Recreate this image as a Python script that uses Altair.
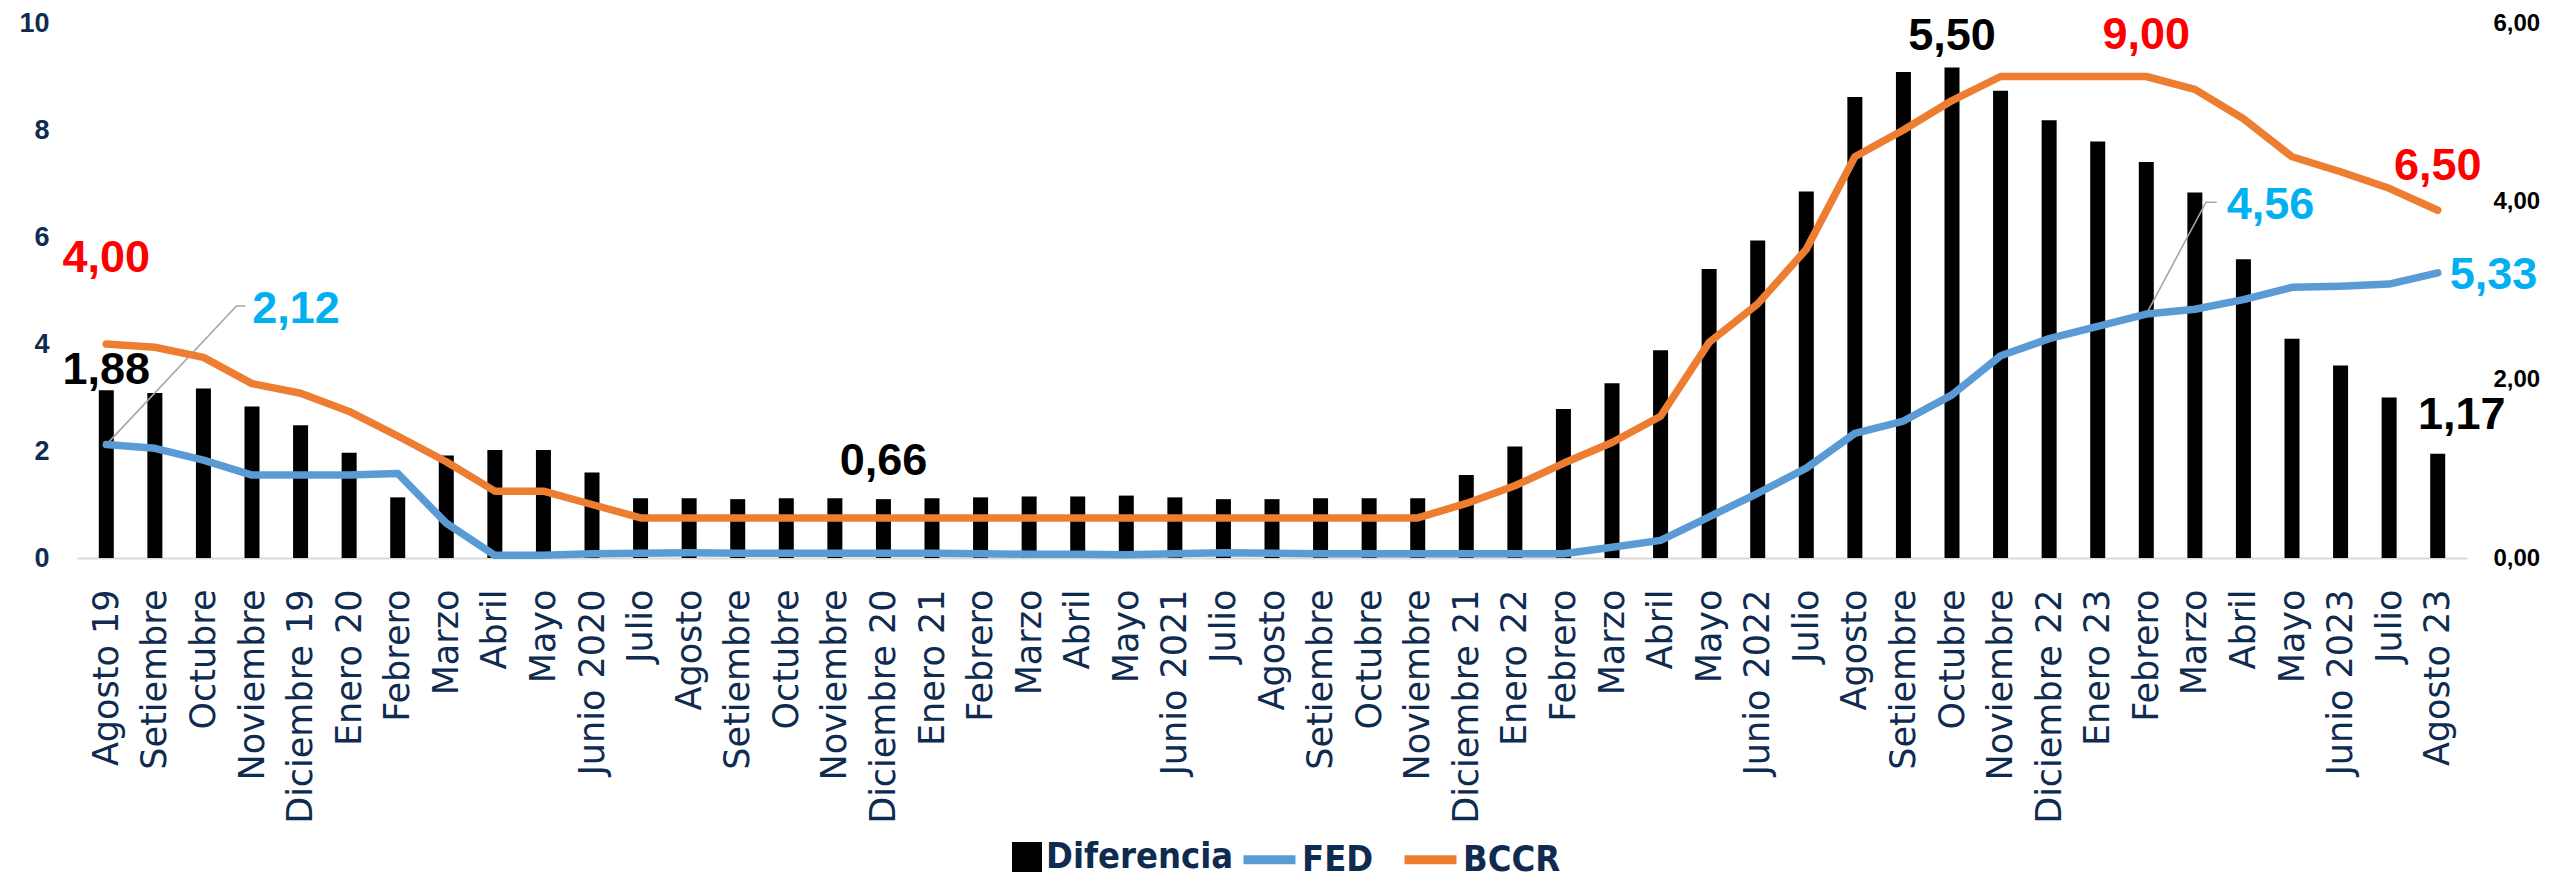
import json
import altair as alt
import pandas as pd

# ---------------- data ----------------
meses = ["Agosto 19", "Setiembre", "Octubre", "Noviembre", "Diciembre 19", "Enero 20",
         "Febrero", "Marzo", "Abril", "Mayo", "Junio 2020", "Julio", "Agosto\u00a0",
         "Setiembre", "Octubre", "Noviembre", "Diciembre 20", "Enero 21", "Febrero",
         "Marzo", "Abril", "Mayo", "Junio 2021", "Julio", "Agosto\u00a0", "Setiembre",
         "Octubre", "Noviembre", "Diciembre 21", "Enero 22", "Febrero", "Marzo", "Abril",
         "Mayo", "Junio 2022", "Julio", "Agosto\u00a0", "Setiembre", "Octubre", "Noviembre",
         "Diciembre 22", "Enero 23", "Febrero", "Marzo", "Abril", "Mayo", "Junio 2023",
         "Julio", "Agosto 23"]

fed = [2.12, 2.05, 1.83, 1.55, 1.55, 1.55, 1.58, 0.65, 0.05, 0.05, 0.08, 0.09, 0.10,
       0.09, 0.09, 0.09, 0.09, 0.09, 0.08, 0.07, 0.07, 0.06, 0.08, 0.10, 0.09, 0.08,
       0.08, 0.08, 0.08, 0.08, 0.08, 0.20, 0.33, 0.77, 1.21, 1.68, 2.33, 2.56, 3.05,
       3.78, 4.10, 4.33, 4.56, 4.65, 4.83, 5.06, 5.08, 5.12, 5.33]

bccr = [4.00, 3.94, 3.75, 3.26, 3.08, 2.74, 2.28, 1.80, 1.25, 1.25, 1.00, 0.75, 0.75,
        0.75, 0.75, 0.75, 0.75, 0.75, 0.75, 0.75, 0.75, 0.75, 0.75, 0.75, 0.75, 0.75,
        0.75, 0.75, 1.02, 1.35, 1.77, 2.16, 2.65, 4.03, 4.75, 5.77, 7.50, 8.00, 8.55,
        9.00, 9.00, 9.00, 9.00, 8.76, 8.21, 7.50, 7.22, 6.91, 6.50]

diferencia = [1.88, 1.85, 1.90, 1.70, 1.49, 1.18, 0.68, 1.15, 1.21, 1.21, 0.96, 0.67,
              0.67, 0.66, 0.67, 0.67, 0.66, 0.67, 0.68, 0.69, 0.69, 0.70, 0.68, 0.66,
              0.66, 0.67, 0.67, 0.67, 0.93, 1.25, 1.67, 1.96, 2.33, 3.24, 3.56, 4.11,
              5.17, 5.45, 5.50, 5.24, 4.91, 4.67, 4.44, 4.10, 3.35, 2.46, 2.16, 1.80, 1.17]

eje_izq = [0, 2, 4, 6, 8, 10]
eje_der = [0, 2, 4, 6]

# annotated points: (index, dx, dy)
notas_bccr = [(0, 0, -86), (42, 0, -42), (48, 0, -44)]
notas_dif = [(0, 0, -20), (16, 0, -38), (38, 0, -32), (48, 24, -39)]
# FED labels with leader lines: (index, knee x, knee y, end x, text dx)
notas_fed_guia = [(0, 2.68, 4.71, 2.86, 7), (42, 43.23, 6.65, 43.45, 10)]
nota_fed_final = 48

NAVY = "#0f2b50"
BOLD_FONT = "Liberation Sans, Arial, sans-serif"
NARROW_FONT = "DejaVu Sans Condensed, Liberation Sans, sans-serif"
AXIS_FONT = "DejaVu Sans, sans-serif"


def fmt(v):
    return f"{v:.2f}".replace(".", ",")


df = pd.DataFrame({"idx": list(range(len(meses))), "mes": meses, "FED": fed,
                   "BCCR": bccr, "Diferencia": diferencia})

x_axis = alt.Axis(values=list(range(len(meses))),
                  labelExpr=json.dumps(meses, ensure_ascii=False) + "[datum.value]",
                  labelAngle=270, labelFont=AXIS_FONT, labelFontSize=35,
                  labelColor=NAVY, labelPadding=31, ticks=False, grid=False,
                  domainColor="#d9d9d9", domainWidth=2, labelOverlap=False,
                  labelFlush=False, labelBound=False, labelLimit=500, title=None)
x_scale = alt.Scale(domain=[-0.5, len(meses) - 0.5], nice=False, zero=False)
X = alt.X("idx:Q", scale=x_scale, axis=x_axis)

ax_der = alt.Axis(orient="right", values=eje_der,
                  labelExpr="replace(format(datum.value, '.2f'), '.', ',')",
                  labelFont=BOLD_FONT, labelFontSize=24, labelFontWeight="bold",
                  labelColor="black", labelPadding=26, ticks=False, domain=False,
                  grid=False, title=None)
ax_izq = alt.Axis(orient="left", values=eje_izq, format="d",
                  labelFont=BOLD_FONT, labelFontSize=27, labelFontWeight="bold",
                  labelColor=NAVY, labelPadding=28, ticks=False, domain=False,
                  grid=False, title=None)
sc_der = alt.Scale(domain=[0, 6], nice=False, zero=True)
sc_izq = alt.Scale(domain=[0, 10], nice=False, zero=True)

# ---------------- bars (right axis) ----------------
barras = alt.Chart(df).transform_calculate(serie="'Diferencia'").mark_bar(size=15).encode(
    x=X,
    y=alt.Y("Diferencia:Q", scale=sc_der, axis=ax_der),
    fill=alt.Fill("serie:N", scale=alt.Scale(domain=["Diferencia"], range=["#000000"]),
                  legend=alt.Legend(orient="none", legendX=932, legendY=816,
                                    direction="horizontal", symbolType="square",
                                    symbolSize=900, symbolStrokeWidth=0,
                                    labelFont=NARROW_FONT, labelFontSize=36,
                                    labelFontWeight="bold", labelColor=NAVY,
                                    labelLimit=600, labelOffset=1, title=None)),
)

capas_dif = [barras]
for i, dx, dy in notas_dif:
    capas_dif.append(
        alt.Chart(pd.DataFrame([{"idx": i, "val": diferencia[i],
                                 "txt": fmt(diferencia[i])}])).mark_text(
            font=BOLD_FONT, fontSize=45, fontWeight="bold", color="black",
            dx=dx, dy=dy, baseline="middle", align="center").encode(
            x=X, y=alt.Y("val:Q", scale=sc_der, axis=ax_der), text="txt:N"))
grupo_barras = alt.layer(*capas_dif)

# ---------------- lines (left axis) ----------------
lineas = alt.Chart(df).transform_fold(["FED", "BCCR"], as_=["serie", "valor"]).mark_line(
    strokeWidth=7.5, strokeCap="round", strokeJoin="round").encode(
    x=X,
    y=alt.Y("valor:Q", scale=sc_izq, axis=ax_izq),
    stroke=alt.Stroke("serie:N", scale=alt.Scale(domain=["FED", "BCCR"],
                                                 range=["#5b9bd5", "#ed7d31"]),
                      legend=alt.Legend(orient="none", legendX=1162, legendY=806,
                                        direction="horizontal", symbolType="stroke",
                                        symbolSize=2700, symbolStrokeWidth=9,
                                        columnPadding=12,
                                        labelFont=NARROW_FONT, labelFontSize=36,
                                        labelFontWeight="bold", labelColor=NAVY,
                                        labelLimit=600, labelOffset=2, title=None)),
    order="idx:Q",
)

guia_rows = []
for g, (i, kx, ky, ex, _) in enumerate(notas_fed_guia):
    guia_rows += [{"g": g, "o": 0, "x": i, "y": fed[i]},
                  {"g": g, "o": 1, "x": kx, "y": ky},
                  {"g": g, "o": 2, "x": ex, "y": ky}]
guias = alt.Chart(pd.DataFrame(guia_rows)).mark_line(color="#a6a6a6", strokeWidth=1.6).encode(
    x=alt.X("x:Q", scale=x_scale, axis=x_axis),
    y=alt.Y("y:Q", scale=sc_izq, axis=ax_izq),
    detail="g:N", order="o:Q")

capas_lin = [guias, lineas]
for i, dx, dy in notas_bccr:
    capas_lin.append(
        alt.Chart(pd.DataFrame([{"idx": i, "val": bccr[i], "txt": fmt(bccr[i])}])).mark_text(
            font=BOLD_FONT, fontSize=45, fontWeight="bold", color="#ff0000",
            dx=dx, dy=dy, baseline="middle", align="center").encode(
            x=X, y=alt.Y("val:Q", scale=sc_izq, axis=ax_izq), text="txt:N"))
for i, kx, ky, ex, tdx in notas_fed_guia:
    capas_lin.append(
        alt.Chart(pd.DataFrame([{"idx": ex, "val": ky, "txt": fmt(fed[i])}])).mark_text(
            font=BOLD_FONT, fontSize=45, fontWeight="bold", color="#00b0f0",
            dx=tdx, dy=3, baseline="middle", align="left").encode(
            x=X, y=alt.Y("val:Q", scale=sc_izq, axis=ax_izq), text="txt:N"))
capas_lin.append(
    alt.Chart(pd.DataFrame([{"idx": nota_fed_final, "val": fed[nota_fed_final],
                             "txt": fmt(fed[nota_fed_final])}])).mark_text(
        font=BOLD_FONT, fontSize=45, fontWeight="bold", color="#00b0f0",
        dx=12, dy=2, baseline="middle", align="left").encode(
        x=X, y=alt.Y("val:Q", scale=sc_izq, axis=ax_izq), text="txt:N"))
grupo_lineas = alt.layer(*capas_lin)

chart = alt.layer(grupo_barras, grupo_lineas).resolve_scale(
    y="independent", fill="independent", stroke="independent"
).properties(
    width=2390, height=535,
    autosize=alt.AutoSizeParams(type="none"),
    padding={"left": 69, "top": 15, "right": 77, "bottom": 323},
    background="white",
).configure_view(stroke=None)

chart.save("out.html", embed_options={"renderer": "svg", "actions": False})
